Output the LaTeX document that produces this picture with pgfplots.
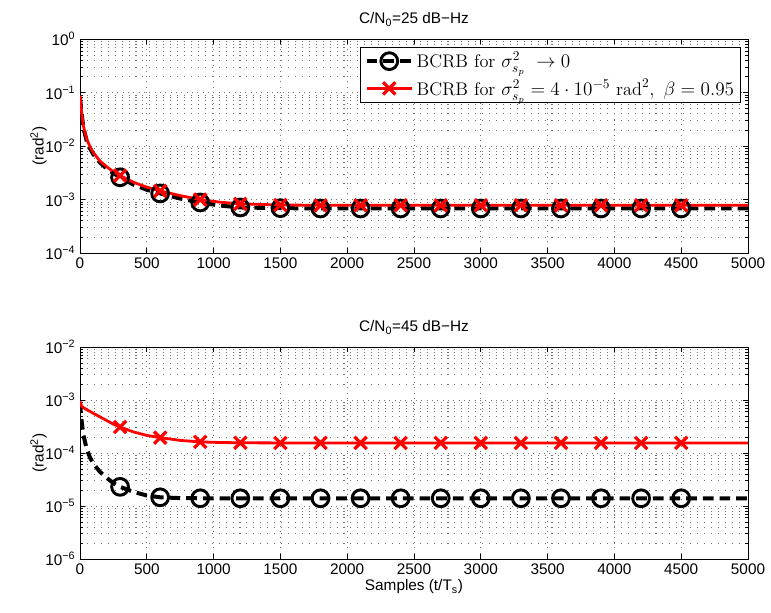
\documentclass[border=0pt]{standalone}
\usepackage{fontspec}
\setsansfont{Liberation Sans}
\usepackage{pgfplots}
\usepackage{pgfplotstable}
\pgfplotsset{compat=1.18}

% BCRB curves, columns: sample index t and bound v (rad^2)
\pgfplotstableread{
t v
0 0.080
10 0.045
25 0.022
50 0.0125
75 0.0090
100 0.0070
150 0.0049
200 0.0038
250 0.0031
300 0.0026
400 0.0019
500 0.00152
600 0.00130
750 0.00104
900 0.00088
1050 0.00077
1200 0.00071
1500 0.00069
1800 0.00068
2100 0.00068
2400 0.00068
2700 0.00068
3000 0.00068
3300 0.00068
3600 0.00068
3900 0.00068
4200 0.00068
4500 0.00068
5000 0.00068
}\topstatic
\pgfplotstableread{
t v
0 0.088
10 0.048
25 0.024
50 0.0135
75 0.0097
100 0.0075
150 0.0052
200 0.0041
250 0.0033
300 0.0028
400 0.0021
500 0.0017
600 0.00145
750 0.00118
900 0.00100
1050 0.00089
1200 0.00083
1500 0.00079
1800 0.00078
2100 0.00078
2400 0.00078
2700 0.00078
3000 0.00078
3300 0.00078
3600 0.00078
3900 0.00078
4200 0.00078
4500 0.00078
5000 0.00078
}\topdyn
\pgfplotstableread{
t v
0 0.00090
10 0.00045
25 0.00022
50 0.00012
75 0.000082
100 0.000063
150 0.000044
200 0.000034
250 0.000027
300 0.000023
400 0.0000185
500 0.0000158
600 0.0000146
750 0.0000141
900 0.0000140
1050 0.0000140
1200 0.0000140
1500 0.0000140
1800 0.0000140
2100 0.0000140
2400 0.0000140
2700 0.0000140
3000 0.0000140
3300 0.0000140
3600 0.0000140
3900 0.0000140
4200 0.0000140
4500 0.0000140
5000 0.0000140
}\botstatic
\pgfplotstableread{
t v
0 0.00095
10 0.00078
25 0.00072
50 0.00066
75 0.00061
100 0.00056
150 0.00048
200 0.00041
250 0.00035
300 0.00031
400 0.00025
500 0.000215
600 0.000195
750 0.000173
900 0.000162
1050 0.000158
1200 0.000156
1500 0.000155
1800 0.000155
2100 0.000155
2400 0.000155
2700 0.000155
3000 0.000155
3300 0.000155
3600 0.000155
3900 0.000155
4200 0.000155
4500 0.000155
5000 0.000155
}\botdyn

\newcommand{\tp}[1]{10\textsuperscript{#1}}
\newcommand{\labfont}{\sffamily\fontsize{11.5}{13}\selectfont}

\begin{document}
\begin{tikzpicture}
\useasboundingbox (0pt,0pt) rectangle (578.25pt,-459pt);

\begin{axis}[
  at={(60pt,-29.25pt)}, anchor=north west,
  scale only axis, width=501pt, height=160.5pt,
  ymode=log,
  xmin=0, xmax=5000, ymin=1e-4, ymax=1,
  xtick={0,500,...,5000},
  scaled x ticks=false,
  xticklabel style={/pgf/number format/1000 sep={}, /pgf/number format/assume math mode=true},
  ytick={1e-4,1e-3,1e-2,1e-1,1},
  yticklabels={\tp{−4},\tp{−3},\tp{−2},\tp{−1},\tp{0}},
  minor ytick={2e-4,3e-4,4e-4,5e-4,6e-4,7e-4,8e-4,9e-4,
               2e-3,3e-3,4e-3,5e-3,6e-3,7e-3,8e-3,9e-3,
               2e-2,3e-2,4e-2,5e-2,6e-2,7e-2,8e-2,9e-2,
               0.2,0.3,0.4,0.5,0.6,0.7,0.8,0.9},
  tick align=inside,
  major tick length=4pt, minor tick length=2.5pt,
  tick style={black, line width=0.5pt},
  axis line style={black, line width=0.6pt},
  xmajorgrids, ymajorgrids, yminorgrids,
  major grid style={black!55, line width=0.5pt, dash pattern=on 0.8pt off 3.2pt},
  minor grid style={black!55, line width=0.5pt, dash pattern=on 0.8pt off 4.4pt},
  tick label style={font=\labfont, black},
  ylabel={(rad\textsuperscript{2})},
  ylabel style={font=\labfont, yshift=-8pt},
  title={C/N\textsubscript{0}=25 dB−Hz},
  title style={font=\labfont},
  legend style={at={(0.99,0.965)}, anchor=north east,
    draw=black, line width=0.8pt, fill=white,
    font=\fontsize{13.7}{16}\selectfont,
    inner xsep=3pt, inner ysep=2pt, row sep=3pt},
  legend cell align=left,
  legend image code/.code={%
    \draw[mark repeat=2, mark phase=2] plot coordinates {(0cm,0cm) (0.6cm,0cm) (1.2cm,0cm)};},
]
\addplot[black, line width=3pt, dash pattern=on 8pt off 4.5pt,
  mark=o, mark size=6.3pt, mark options={solid, line width=2.2pt},
  mark indices={10,13,15,17,18,19,20,21,22,23,24,25,26,27,28},
  forget plot] table[x=t, y=v] {\topstatic};
\addplot[red, line width=2.1pt,
  mark=x, mark size=6.5pt, mark options={solid, line width=2.4pt},
  mark indices={10,13,15,17,18,19,20,21,22,23,24,25,26,27,28},
  forget plot] table[x=t, y=v] {\topdyn};
\addlegendimage{black, line width=3pt, dash pattern=on 8pt off 4.5pt,
  mark=o, mark size=6.3pt, mark options={solid, line width=2.2pt}}
\addlegendentry{BCRB for $\sigma^2_{s_p}\ \rightarrow 0$}
\addlegendimage{red, line width=2.1pt,
  mark=x, mark size=6.5pt, mark options={solid, line width=2.4pt}}
\addlegendentry{BCRB for $\sigma^2_{s_p}=4\cdot 10^{-5}\ \mathrm{rad}^2,\ \beta=0.95$}
\end{axis}

\begin{axis}[
  at={(60pt,-260.25pt)}, anchor=north west,
  scale only axis, width=501pt, height=159pt,
  ymode=log,
  xmin=0, xmax=5000, ymin=1e-6, ymax=1e-2,
  xtick={0,500,...,5000},
  scaled x ticks=false,
  xticklabel style={/pgf/number format/1000 sep={}, /pgf/number format/assume math mode=true},
  ytick={1e-6,1e-5,1e-4,1e-3,1e-2},
  yticklabels={\tp{−6},\tp{−5},\tp{−4},\tp{−3},\tp{−2}},
  minor ytick={2e-6,3e-6,4e-6,5e-6,6e-6,7e-6,8e-6,9e-6,
               2e-5,3e-5,4e-5,5e-5,6e-5,7e-5,8e-5,9e-5,
               2e-4,3e-4,4e-4,5e-4,6e-4,7e-4,8e-4,9e-4,
               2e-3,3e-3,4e-3,5e-3,6e-3,7e-3,8e-3,9e-3},
  tick align=inside,
  major tick length=4pt, minor tick length=2.5pt,
  tick style={black, line width=0.5pt},
  axis line style={black, line width=0.6pt},
  xmajorgrids, ymajorgrids, yminorgrids,
  major grid style={black!55, line width=0.5pt, dash pattern=on 0.8pt off 3.2pt},
  minor grid style={black!55, line width=0.5pt, dash pattern=on 0.8pt off 4.4pt},
  tick label style={font=\labfont, black},
  ylabel={(rad\textsuperscript{2})},
  ylabel style={font=\labfont, yshift=-8pt},
  title={C/N\textsubscript{0}=45 dB−Hz},
  title style={font=\labfont},
  xlabel={Samples (t/T\textsubscript{s})},
  xlabel style={font=\labfont, yshift=3pt},
]
\addplot[black, line width=3pt, dash pattern=on 8pt off 4.5pt,
  mark=o, mark size=6.3pt, mark options={solid, line width=2.2pt},
  mark indices={10,13,15,17,18,19,20,21,22,23,24,25,26,27,28}]
  table[x=t, y=v] {\botstatic};
\addplot[red, line width=2.1pt,
  mark=x, mark size=6.5pt, mark options={solid, line width=2.4pt},
  mark indices={10,13,15,17,18,19,20,21,22,23,24,25,26,27,28}]
  table[x=t, y=v] {\botdyn};
\end{axis}
\end{tikzpicture}
\end{document}
